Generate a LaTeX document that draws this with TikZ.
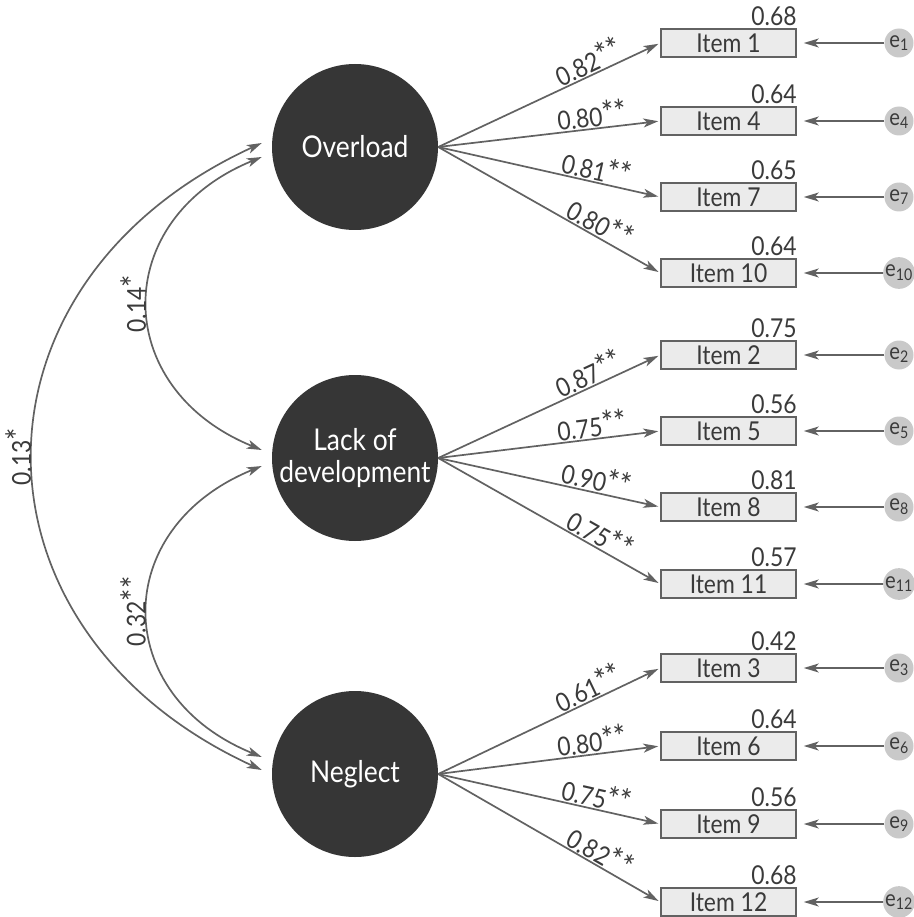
\documentclass[tikz,border=0pt]{standalone}
\usepackage{fontspec}
\setmainfont[FakeStretch=0.88]{Lato}
\usetikzlibrary{arrows.meta}
\definecolor{latent}{HTML}{363636}
\definecolor{lineg}{HTML}{626262}
\definecolor{boxfill}{HTML}{EBEBEB}
\definecolor{errfill}{HTML}{C9C9C9}
\definecolor{txt}{HTML}{3A3A3A}
% significance stars, set a little larger than the digits
\newcommand\sigstar{{\fontsize{33}{33}\selectfont*}}
\begin{document}
\begin{tikzpicture}[x=1pt,y=-1pt,
  latentnode/.style={circle, fill=latent, minimum size=166pt, inner sep=0pt,
    text=white, align=center, font=\fontsize{30}{32}\selectfont},
  itembox/.style={draw=lineg, fill=boxfill, line width=1.5pt, minimum width=135pt,
    minimum height=28pt, inner sep=0pt, text=txt, font=\fontsize{26}{28}\selectfont},
  errnode/.style={circle, fill=errfill, minimum size=29pt, inner sep=0pt,
    text=txt, font=\fontsize{23}{24}\selectfont},
  tipstyle/.style={-{Stealth[length=15pt,width=9pt,inset=4pt]}},
  loadarrow/.style={draw=lineg, line width=1.7pt, tipstyle, shorten >=2pt},
  errarrow/.style={draw=lineg, line width=1.7pt, tipstyle, shorten >=7pt},
  covarrow/.style={draw=lineg, line width=1.7pt,
    {Stealth[length=15pt,width=9pt,inset=4pt]}-{Stealth[length=15pt,width=9pt,inset=4pt]}},
  loadlab/.style={sloped, above, pos=0.7, inner sep=1pt, text=txt,
    font=\fontsize{26}{28}\selectfont},
  r2lab/.style={anchor=south east, inner sep=0pt, yshift=2pt, text=txt,
    font=\fontsize{26}{28}\selectfont},
  covlab/.style={rotate=90, inner sep=1pt, text=txt, font=\fontsize{26}{28}\selectfont}
]
\useasboundingbox (0,0) rectangle (913,917);

% latent factors
\node[latentnode] (ov) at (355,147) {Overload};
\node[latentnode] (ld) at (355,458) {Lack of\\development};
\node[latentnode] (ne) at (355,774) {Neglect};

% indicators, their errors, loadings and R^2 values
\foreach \i/\y/\f/\r/\l in {
    1/43/ov/0.68/0.82, 4/121/ov/0.64/0.80, 7/197/ov/0.65/0.81, 10/273/ov/0.64/0.80,
    2/355/ld/0.75/0.87, 5/431/ld/0.56/0.75, 8/507/ld/0.81/0.90, 11/584/ld/0.57/0.75,
    3/668/ne/0.42/0.61, 6/746/ne/0.64/0.80, 9/824/ne/0.56/0.75, 12/902/ne/0.68/0.82}{
  \node[itembox] (item\i) at (728.5,\y) {Item \i};
  \node[r2lab] (r\i) at (item\i.north east) {\r};
  \node[errnode] (e\i) at (899,\y) {e\textsubscript{\i}};
  \draw[loadarrow] (\f.east) -- (item\i.west) node[loadlab] {\l\sigstar\sigstar};
  \draw[errarrow] (e\i.west) -- (item\i.east);
}

% covariance end points beside the factors
\coordinate (ovA) at ([shift={(-10,-4)}]ov.west);
\coordinate (ovB) at ([shift={(-10,10)}]ov.west);
\coordinate (ldA) at ([shift={(-10,-8)}]ld.west);
\coordinate (ldB) at ([shift={(-10,8)}]ld.west);
\coordinate (neA) at ([shift={(-10,-17)}]ne.west);
\coordinate (neB) at ([shift={(-10,-4)}]ne.west);

% covariances
\draw[covarrow] (ovB) .. controls +(-152,62) and +(-152,-62) .. (ldA)
  node[pos=0.5, covlab, anchor=south] (c1) {0.14\sigstar};
\draw[covarrow] (ldB) .. controls +(-152,62) and +(-152,-62) .. (neA)
  node[pos=0.5, covlab, anchor=south] (c2) {0.32\sigstar\sigstar};
\draw[covarrow] (ovA) .. controls +(-305,140) and +(-305,-140) .. (neB)
  node[pos=0.5, covlab, anchor=south] (c3) {0.13\sigstar};
\end{tikzpicture}
\end{document}
